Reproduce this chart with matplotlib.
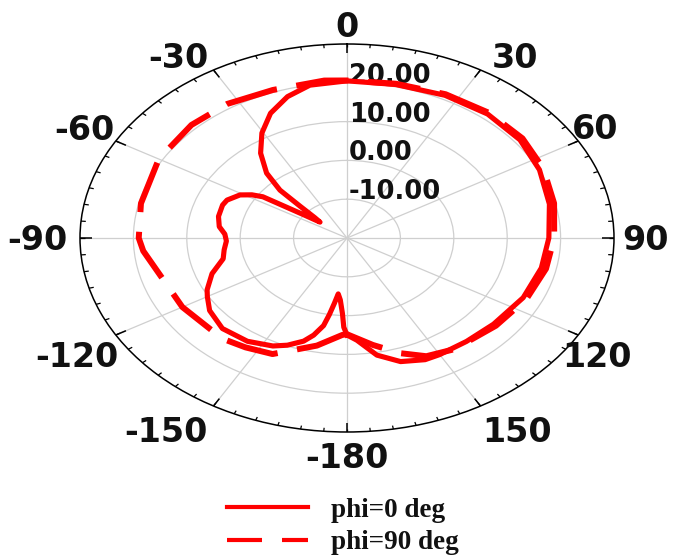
import numpy as np
import matplotlib
matplotlib.use("Agg")
import matplotlib.pyplot as plt
from matplotlib.lines import Line2D
from matplotlib.transforms import ScaledTranslation

# ---------------- data ----------------
theta_phi0 = [-180, -178.5, -177.5, -175.5, -173.5, -172, -170.5, -169, -166, -163,
              -158, -153.5, -145, -135, -126, -120, -117, -110, -103, -97.5,
              -92, -87.5, -83, -77, -70, -66.5, -61, -58, -56, -55,
              -53.5, -51, -49, -47, -45.5, -42, -36.5, -30.5, -24, -17,
              -10, 0, 13, 26.5, 39.5, 52, 64, 77, 90, 102,
              115, 129, 140, 150, 155, 162.5, 169.5, 176, 180]
r_phi0 = [5.0, 3.0, -0.5, -4.0, -5.5, -3.0, 0.0, 3.0, 5.8, 7.8,
          9.8, 11.1, 12.5, 13.0, 11.8, 10.2, 9.4, 6.9, 3.8, 3.2,
          2.6, 2.9, 4.1, 4.7, 4.8, 4.5, 2.9, 1.0, -1.0, -6.0,
          -10.0, -13.5, -12.0, -8.0, -2.4, 2.5, 7.2, 11.4, 15.2, 18.1,
          20.0, 20.5, 20.6, 21.1, 21.4, 21.1, 20.1, 18.9, 17.8, 17.2,
          16.4, 15.3, 14.8, 14.7, 14.6, 13.4, 10.7, 6.4, 5.0]

theta_phi90 = [-180, -178, -168.5, -155, -146, -138, -120, -95, -90, -77,
               -60, -45, -33, -20, -6, 0, 13, 26.5, 39.5, 52,
               64, 77, 90, 102, 115, 129, 145, 154, 161.5, 170, 180]
r_phi90 = [4.8, 5.0, 8.3, 13.0, 14.0, 14.9, 15.6, 18.3, 19.0, 19.6,
           20.7, 21.2, 21.2, 20.6, 20.8, 20.6, 20.8, 21.4, 21.8, 21.7,
           20.9, 19.8, 18.8, 18.1, 17.1, 15.9, 15.0, 13.9, 11.3, 8.0, 4.8]

angle_ticks = [0, 30, 60, 90, 120, 150, 180, -150, -120, -90, -60, -30]
angle_labels = ['0', '30', '60', '90', '120', '150', '-180', '-150', '-120', '-90', '-60', '-30']
minor_tick_step = 5
r_ticks = [-10, 0, 10, 20]
r_labels = ['-10.00', '0.00', '10.00', '20.00']
r_min, r_max = -20, 30
series_labels = ['phi=0 deg', 'phi=90 deg']

# label centre offsets (px) from the outer ring point
angle_label_offsets = [(0, 19), (35, 14), (17, 14), (31, 0), (19, -20), (37, -24),
                       (0, -24), (-48, -24), (-39, -20), (-43, 0), (-31, 13), (-35, 14)]

W, H = 685, 558
fig = plt.figure(figsize=(W / 100, H / 100), dpi=100)
ax = fig.add_axes([80 / W, 126 / H, 534 / W, 388 / H], projection='polar')
ax.set_aspect('auto')
ax.set_theta_zero_location('N')
ax.set_theta_direction(-1)

ax.plot(np.deg2rad(theta_phi90), r_phi90, color='red', lw=4.3,
        ls=(0, (8.8, 3.3)), zorder=3)
ax.plot(np.deg2rad(theta_phi0), r_phi0, color='red', lw=3.7, zorder=3)

ax.set_xticks(np.deg2rad(np.mod(angle_ticks, 360)))
ax.set_xticklabels([])
ax.set_yticks(r_ticks)
ax.set_yticklabels([])
ax.tick_params(axis='both', length=0)
ax.grid(True, color='#cfcfcf', lw=0.9)
ax.spines['polar'].set_color('black')
ax.spines['polar'].set_linewidth(1.1)

# inward tick marks on the outer ring
minor_angles = np.deg2rad(np.arange(0, 360, minor_tick_step))
major_angles = np.deg2rad(np.mod(angle_ticks, 360))
ax.vlines(minor_angles, r_max - 0.9, r_max, color='black', lw=0.9, zorder=4)
ax.vlines(major_angles, r_max - 2.2, r_max, color='black', lw=1.1, zorder=4)

ax.set_xlim(0, 2 * np.pi)
ax.set_rlim(r_min, r_max)

# radial labels
for rv, lab in zip(r_ticks, r_labels):
    ax.text(0, rv, lab, transform=ax.transData + ScaledTranslation(2 / 100, 0, fig.dpi_scale_trans),
            ha='left', va='baseline', fontsize=18.5, fontweight='bold',
            family='DejaVu Sans', color='#111111', zorder=2.5)

# angular labels
for ang, lab, (dx, dy) in zip(angle_ticks, angle_labels, angle_label_offsets):
    a = np.deg2rad(ang)
    x = 0.5 + 0.5 * np.sin(a)
    y = 0.5 + 0.5 * np.cos(a)
    ax.text(x, y, lab, transform=ax.transAxes + ScaledTranslation(dx / 100, (dy - 12) / 100, fig.dpi_scale_trans),
            ha='center', va='baseline', fontsize=24, fontweight='bold',
            family='DejaVu Sans', color='#111111', clip_on=False)

h1 = Line2D([], [], color='red', lw=3)
h2 = Line2D([], [], color='red', lw=3, ls=(0, (8.4, 4.8)))
fig.legend([h1, h2], series_labels, loc='center left',
           bbox_to_anchor=(227 / W, 1 - 526.5 / H), frameon=False,
           prop=dict(family='Liberation Serif', weight='bold', size=19.5),
           labelcolor='#111111', handlelength=3.0, handletextpad=0.85,
           labelspacing=0.28, borderpad=0, borderaxespad=0)

fig.savefig('out.png', dpi=100)
